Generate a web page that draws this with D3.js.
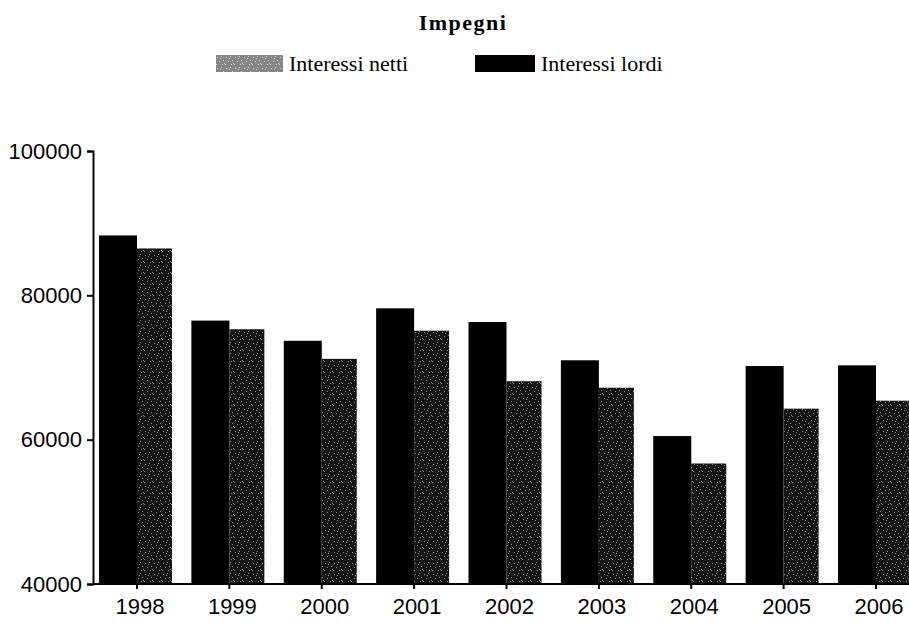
<!DOCTYPE html>
<html lang="it">
<head>
<meta charset="UTF-8" />
<title>Impegni</title>
<script src="https://d3js.org/d3.v7.min.js"></script>
<style>
  body { margin: 0; background: #fff; }
  .tick text { font-family: "Liberation Sans", Arial, sans-serif; }
</style>
</head>
<body>
<div id="chart"></div>
<script>
// data
var years = ["1998", "1999", "2000", "2001", "2002", "2003", "2004", "2005", "2006"];
var lordi = [88300, 76500, 73700, 78200, 76300, 71000, 60500, 70200, 70300];
var netti = [86500, 75300, 71200, 75100, 68100, 67200, 56700, 64300, 65400];
var yTicks = [40000, 60000, 80000, 100000];

var width = 909, height = 631;

var svg = d3.select("#chart").append("svg")
  .attr("width", width)
  .attr("height", height);

// speckled texture for "netti"
var defs = svg.append("defs");
function speckle(id, bg, dot) {
  var p = defs.append("pattern")
    .attr("id", id)
    .attr("patternUnits", "userSpaceOnUse")
    .attr("width", 9).attr("height", 11);
  p.append("rect").attr("width", 9).attr("height", 11).attr("fill", bg);
  var dots = [[1,2],[5,1],[3,6],[7,5],[0,9],[6,9],[4,3],[8,8]];
  dots.forEach(function(d) {
    p.append("rect").attr("x", d[0]).attr("y", d[1])
      .attr("width", 1).attr("height", 1).attr("fill", dot);
  });
}
speckle("bar-netti", "#161616", "#8a8a8a");
speckle("leg-netti", "#858585", "#cfcfcf");

// scales
var x = d3.scalePoint().domain(years).range([137, 876]);
var y = d3.scaleLinear().domain([40000, 100000]).range([584, 151]);

var wL = 38, wN = 35;

// bars
svg.append("g").selectAll("rect")
  .data(years)
  .enter().append("rect")
    .attr("x", function(d) { return x(d) - wL; })
    .attr("y", function(d, i) { return y(lordi[i]); })
    .attr("width", wL)
    .attr("height", function(d, i) { return y(40000) - y(lordi[i]); })
    .attr("fill", "#000");

svg.append("g").selectAll("rect")
  .data(years)
  .enter().append("rect")
    .attr("x", function(d) { return x(d); })
    .attr("y", function(d, i) { return y(netti[i]); })
    .attr("width", wN)
    .attr("height", function(d, i) { return y(40000) - y(netti[i]); })
    .attr("fill", "url(#bar-netti)");

// y axis
var yAxis = svg.append("g")
  .attr("transform", "translate(93,0)")
  .call(d3.axisLeft(y).tickValues(yTicks).tickSize(6).tickFormat(d3.format("d")));
yAxis.selectAll(".tick text")
  .attr("x", -11)
  .attr("font-size", 22)
  .attr("fill", "#000");
yAxis.selectAll(".tick line").attr("stroke", "#000").attr("stroke-width", 2);
yAxis.select(".domain").attr("stroke", "#000").attr("stroke-width", 2);

// x axis
var xAxis = svg.append("g")
  .attr("transform", "translate(0,584)");
xAxis.append("line")
  .attr("x1", 93).attr("x2", width)
  .attr("stroke", "#000").attr("stroke-width", 2);
xAxis.selectAll(".xt")
  .data(years)
  .enter().append("line")
    .attr("x1", function(d) { return x(d); })
    .attr("x2", function(d) { return x(d); })
    .attr("y1", 0).attr("y2", 5)
    .attr("stroke", "#000").attr("stroke-width", 2);
xAxis.selectAll(".xl")
  .data(years)
  .enter().append("text")
    .attr("x", function(d) { return x(d) + 3; })
    .attr("y", 30)
    .attr("text-anchor", "middle")
    .attr("font-family", "Liberation Sans, Arial, sans-serif")
    .attr("font-size", 22)
    .text(function(d) { return d; });

// title
svg.append("text")
  .attr("x", 463).attr("y", 30)
  .attr("text-anchor", "middle")
  .attr("font-family", "Liberation Serif, Times New Roman, serif")
  .attr("font-weight", "bold")
  .attr("font-size", 22)
  .attr("letter-spacing", 1.5)
  .text("Impegni");

// legend
var legend = [
  { label: "Interessi netti", fill: "url(#leg-netti)", x: 216 },
  { label: "Interessi lordi", fill: "#000", x: 475 }
];
var lg = svg.append("g").selectAll("g")
  .data(legend)
  .enter().append("g")
    .attr("transform", function(d) { return "translate(" + d.x + ",55)"; });
lg.append("rect")
  .attr("width", function(d, i) { return i === 0 ? 67 : 60; })
  .attr("height", 17)
  .attr("fill", function(d) { return d.fill; });
lg.append("text")
  .attr("x", function(d, i) { return i === 0 ? 73 : 66; })
  .attr("y", 16)
  .attr("font-family", "Liberation Serif, Times New Roman, serif")
  .attr("font-size", 22)
  .text(function(d) { return d.label; });
</script>
</body>
</html>
